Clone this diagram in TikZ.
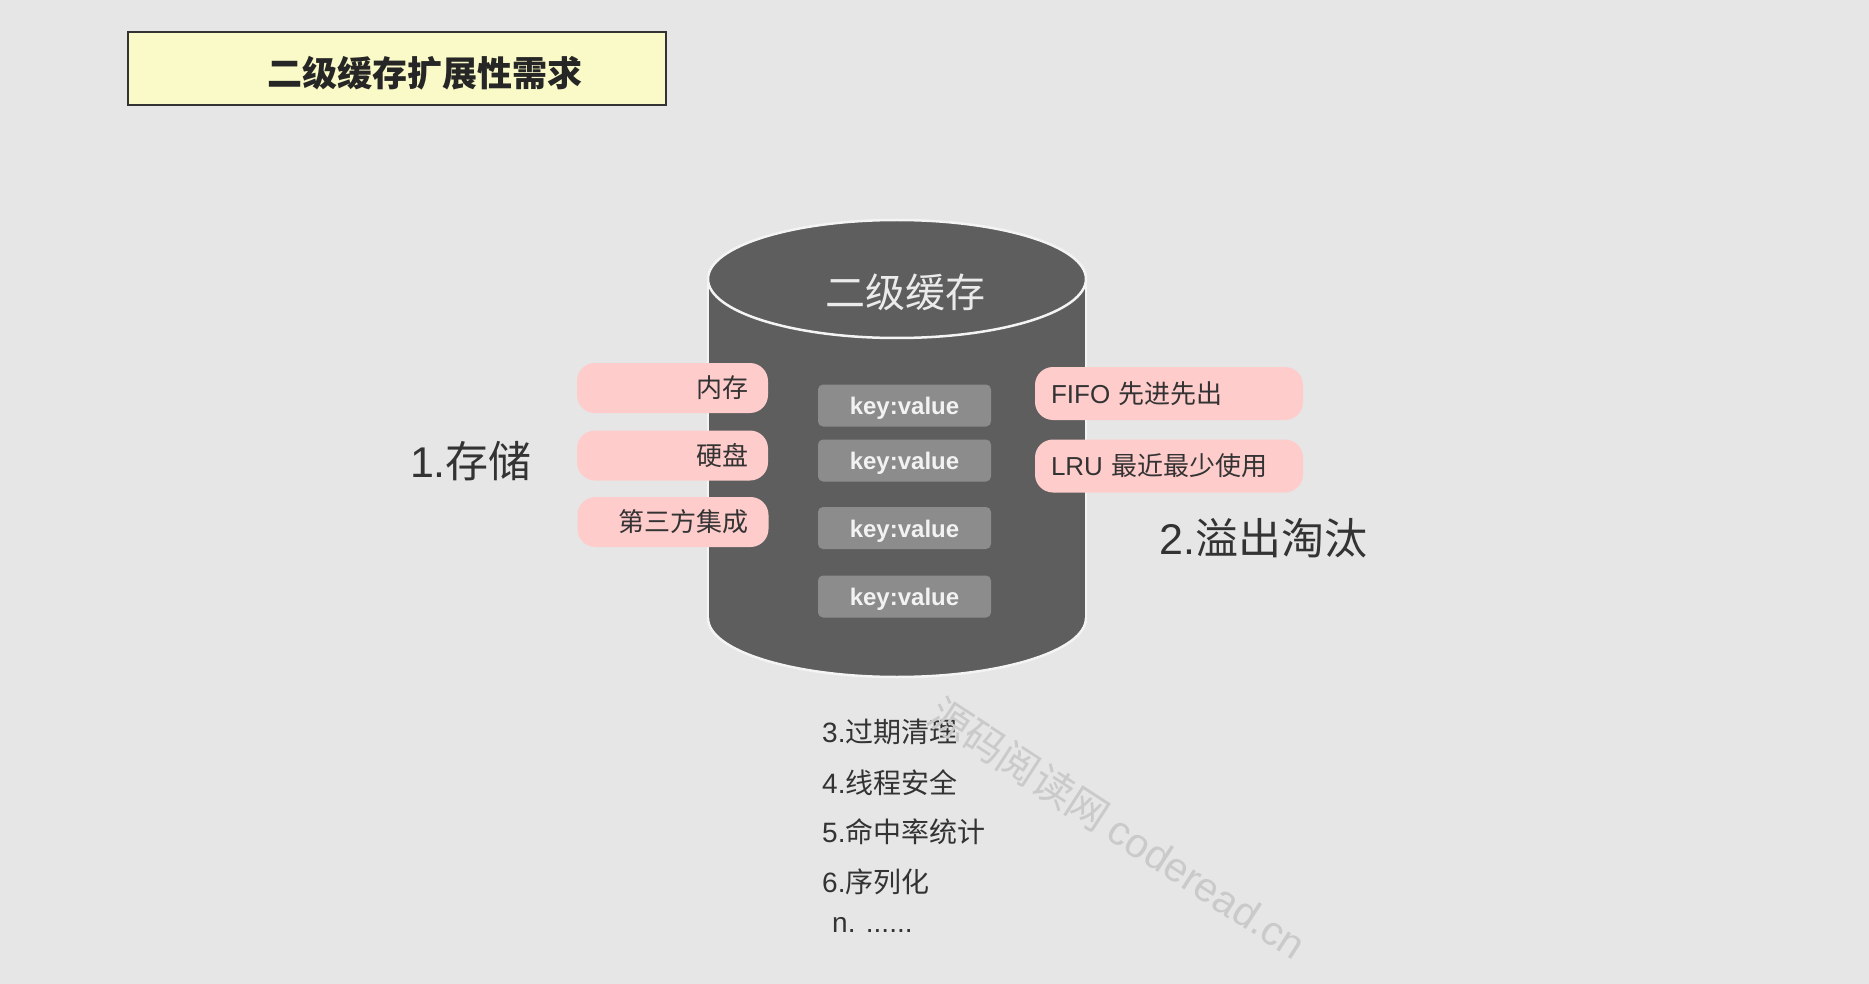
\documentclass[tikz,border=0pt]{standalone}
\usepackage{fontspec}
\usetikzlibrary{shapes.geometric}
\setmainfont{Noto Sans CJK SC}
\newfontfamily\lat{Liberation Sans}
\definecolor{bgc}{HTML}{E6E6E6}
\definecolor{cylc}{HTML}{5E5E5E}
\definecolor{keyc}{HTML}{8C8C8C}
\definecolor{pinkc}{HTML}{FFCCCC}
\definecolor{txtc}{HTML}{333333}
\definecolor{titlec}{HTML}{FAFAC8}
\definecolor{edgec}{HTML}{F4F4F4}
\definecolor{wmc}{HTML}{CACACA}
\tikzset{
  titlebox/.style={draw=txtc, line width=1.5pt, fill=titlec, minimum width=538pt, minimum height=73pt, inner sep=0pt},
  keybox/.style={fill=keyc, rounded corners=5pt, minimum width=173pt, minimum height=42pt, inner sep=0pt},
  keytxt/.style={text=white!95!black, inner sep=0pt, yshift=-3pt, font=\fontsize{24}{24}\selectfont\lat\bfseries},
  pillleft/.style={fill=pinkc, rounded corners=18pt, text width=151pt, inner xsep=20pt, minimum height=50pt, inner ysep=0pt, align=right, text=txtc, font=\fontsize{26}{26}\selectfont},
  pillright/.style={fill=pinkc, rounded corners=18pt, text width=236pt, inner xsep=16pt, minimum height=53pt, inner ysep=0pt, align=left, text=txtc, font=\fontsize{26}{26}\selectfont},
  bigtxt/.style={text=txtc, inner sep=0pt, font=\fontsize{43}{43}\selectfont},
  listtxt/.style={text=txtc, inner sep=0pt, anchor=west, font=\fontsize{28}{28}\selectfont},
  rim/.style={draw=edgec, line width=2.5pt},
}
\begin{document}
\begin{tikzpicture}[x=1pt,y=-1pt]
\fill[bgc] (0,0) rectangle (1869,984);
\useasboundingbox (0,0) rectangle (1869,984);

% title
\node[titlebox] (titlebox) at (397,68.5) {};
\node[text=black!85, inner sep=0pt, font=\fontsize{35}{35}\selectfont\bfseries] (titletext) at (425,73) {二级缓存扩展性需求};

% cylinder body
\fill[cylc] (708,279) rectangle (1086,618);
\fill[cylc] (897,618) ellipse [x radius=189, y radius=59];
\draw[rim] (708,279) -- (708,618);
\draw[rim] (1086,279) -- (1086,618);
\begin{scope}
  \clip (650,618) rectangle (1150,720);
  \draw[rim] (897,618) ellipse [x radius=189, y radius=59];
\end{scope}
% cylinder top
\node[ellipse, fill=cylc, draw=edgec, line width=2.5pt, minimum width=378pt, minimum height=118pt, inner sep=0pt] (top) at (897,279) {};
\node[text=white!92!black, inner sep=0pt, font=\fontsize{40}{40}\selectfont] (cachelabel) at (905,292) {二级缓存};

% key:value boxes
\node[keybox] (kv1) at (904.5,405.5) {};
\node[keybox] (kv2) at (904.5,460.5) {};
\node[keybox] (kv3) at (904.5,528) {};
\node[keybox] (kv4) at (904.5,596.5) {};
\node[keytxt] (kv1t) at (kv1.center) {key:value};
\node[keytxt] (kv2t) at (kv2.center) {key:value};
\node[keytxt] (kv3t) at (kv3.center) {key:value};
\node[keytxt] (kv4t) at (kv4.center) {key:value};

% storage pills
\node[pillleft] (mem) at (672.5,388) {内存};
\node[pillleft] (disk) at (672.5,455.5) {硬盘};
\node[pillleft] (third) at (673,522) {第三方集成};
\node[bigtxt] (storage) at (471,461) {{\lat 1.}存储};

% eviction pills
\node[pillright] (fifo) at (1169,393.5) {{\lat FIFO} 先进先出};
\node[pillright] (lru) at (1169,466) {{\lat LRU} 最近最少使用};
\node[bigtxt, anchor=west] (evict) at (1159,538) {{\lat 2.}溢出淘汰};

% list
\node[listtxt] (l3) at (822,732) {{\lat 3.}过期清理};
\node[listtxt] (l4) at (822,783) {{\lat 4.}线程安全};
\node[listtxt] (l5) at (822,832) {{\lat 5.}命中率统计};
\node[listtxt] (l6) at (822,882) {{\lat 6.}序列化};
\node[listtxt] (ln) at (832,925) {\lat n. ......};

% watermark
\node[text=wmc, inner sep=0pt, rotate=-33, font=\fontsize{41}{41}\selectfont] (wm) at (1118,828) {源码阅读网 {\lat coderead.cn}};
\end{tikzpicture}
\end{document}
